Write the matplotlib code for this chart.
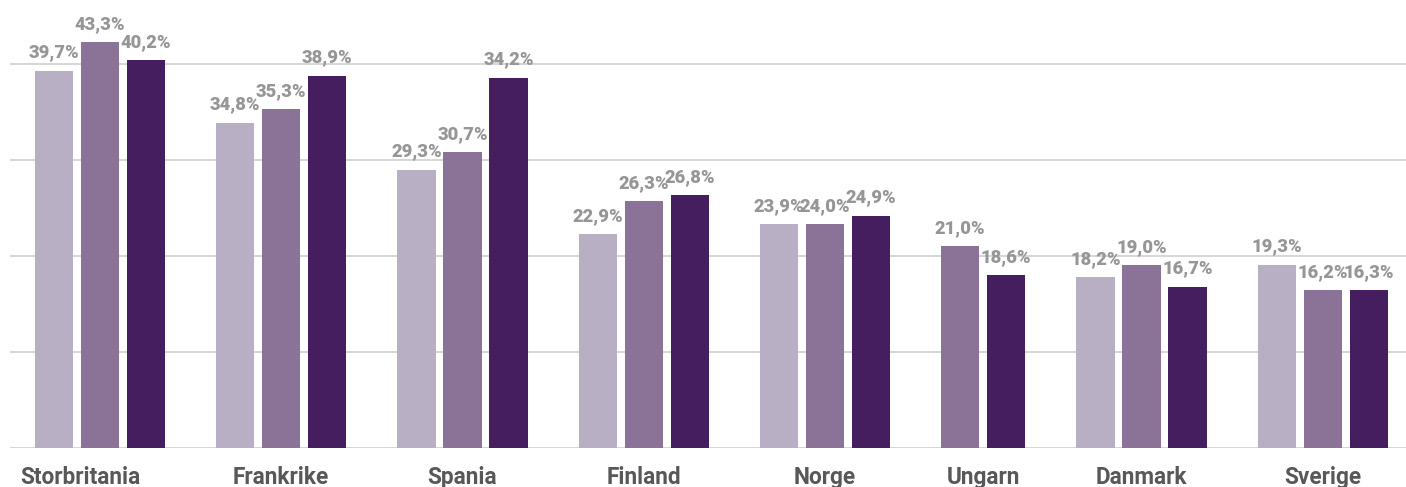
import numpy as np
import matplotlib
matplotlib.use("Agg")
import matplotlib.pyplot as plt
from matplotlib.transforms import blended_transform_factory

categories = ["Storbritania", "Frankrike", "Spania", "Finland", "Norge", "Ungarn", "Danmark", "Sverige"]
# bar heights (NaN = no bar)
series_a = [39.3, 33.9, 29.0, 22.3, 23.3, np.nan, 17.8, 19.1]
series_b = [42.3, 35.3, 30.8, 25.7, 23.3, 21.0, 19.0, 16.4]
series_c = [40.4, 38.8, 38.6, 26.3, 24.2, 18.0, 16.8, 16.4]
labels_a = ["39,7%", "34,8%", "29,3%", "22,9%", "23,9%", "", "18,2%", "19,3%"]
labels_b = ["43,3%", "35,3%", "30,7%", "26,3%", "24,0%", "21,0%", "19,0%", "16,2%"]
labels_c = ["40,2%", "38,9%", "34,2%", "26,8%", "24,9%", "18,6%", "16,7%", "16,3%"]

colors = ["#b8afc5", "#8a7396", "#441e5e"]
W, H = 1406, 487
fig = plt.figure(figsize=(W / 100, H / 100), dpi=100)
base_px = 447.7
ax = fig.add_axes([10 / W, 1 - base_px / H, 1 - 10 / W, base_px / H])

px_per_unit = 95.9 / 10
ax.set_ylim(0, base_px / px_per_unit)

pitch = 1.0
gap = 0.94
width = 0.83

series = [series_a, series_b, series_c]
labels = [labels_a, labels_b, labels_c]

x = 0.0
centers = []
for i, cat in enumerate(categories):
    xs = []
    for s in range(3):
        v = series[s][i]
        if np.isnan(v):
            continue
        ax.bar(x, v, width=width, color=colors[s], zorder=3)
        ax.annotate(labels[s][i], (x, v), xytext=(0, 9.5), textcoords="offset points",
                    ha="center", va="baseline", fontsize=13.2, fontweight="heavy",
                    color="#969696", family="Roboto", zorder=4)
        xs.append(x)
        x += pitch
    centers.append(np.mean(xs))
    x += gap

first_center = 0.0
ax.set_xlim(first_center - 44 / 46, first_center + (W - 54) / 46)

for g in range(0, 50, 10):
    ax.axhline(g, color="#cccccc", lw=1.1, zorder=1)

for sp in ax.spines.values():
    sp.set_visible(False)
ax.set_xticks([])
ax.set_yticks([])

trans = blended_transform_factory(ax.transData, fig.transFigure)
offsets = [-0.43, 0, 0, 0, 0, 0, 0, 0]
for c, cat, off in zip(centers, categories, offsets):
    ax.text(c + off, 1 - 484 / H, cat, transform=trans, ha="center", va="baseline",
            fontsize=16.3, fontweight="bold", color="#58585a", family="Roboto",
            clip_on=False)

fig.savefig("out.png", dpi=100)
